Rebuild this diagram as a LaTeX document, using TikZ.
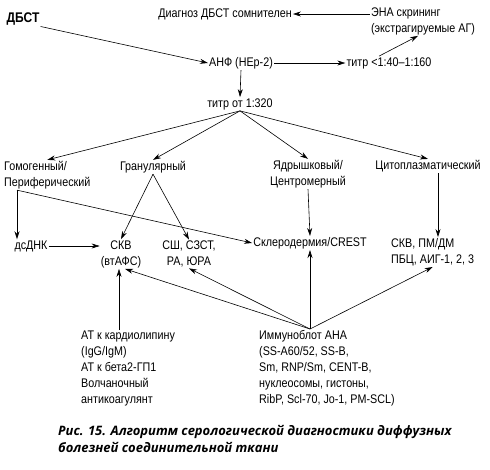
\documentclass[tikz,border=0pt]{standalone}
\usepackage{fontspec}
\setmainfont{Liberation Sans}[FakeStretch=0.86]
\newfontfamily\capfont{Open Sans}
\usetikzlibrary{arrows.meta}

\tikzset{
  lbl/.style={font=\fontsize{12.5}{16}\selectfont, inner sep=1pt},
  arr/.style={-{Stealth[length=8pt,width=5pt]}, semithick},
  ln/.style={semithick}
}

\begin{document}
\begin{tikzpicture}[x=1pt, y=-1pt]
    % --- рамка (размер рисунка в пикселях) ---
    \useasboundingbox (0,0) rectangle (490,469);

    % --- верхняя часть ---
    \node[lbl, font=\fontsize{14}{16}\selectfont\bfseries] (dbst) at (23,19) {ДБСТ};
    \node[lbl] (diag) at (225,14) {Диагноз ДБСТ сомнителен};
    \node[lbl, align=left] (ena) at (423,21) {ЭНА скрининг\\(экстрагируемые АГ)};
    \node[lbl] (anf) at (241,63) {АНФ (НЕр-2)};
    \node[lbl] (titrlow) at (389,63) {титр <1:40–1:160};
    \node[lbl] (titr) at (240,104) {титр от 1:320};

    % --- типы свечения ---
    \node[lbl, align=left, anchor=west] (homo) at (3,175) {Гомогенный/\\Периферический};
    \node[lbl] (gran) at (153,167) {Гранулярный};
    \node[lbl, align=center] (nucl) at (308,174) {Ядрышковый/\\Центромерный};
    \node[lbl] (cyto) at (428,166) {Цитоплазматический};

    % --- диагнозы ---
    \node[lbl] (dsdna) at (31,246) {дсДНК};
    \node[lbl, align=center] (sle) at (121,254) {СКВ\\(втАФС)};
    \node[lbl, align=center] (ssc) at (189,254) {СШ, СЗСТ,\\РА, ЮРА};
    \node[lbl] (crest) at (310,243) {Склеродермия/CREST};
    \node[lbl, align=left, anchor=west] (myo) at (390,252) {СКВ, ПМ/ДМ\\ПБЦ, АИГ-1, 2, 3};

    % --- уточняющие тесты ---
    \node[lbl, align=left, anchor=north west] (apl) at (80,330)
        {АТ к кардиолипину\\(IgG/IgM)\\АТ к бета2-ГП1\\Волчаночный\\антикоагулянт};
    \node[lbl, align=left, anchor=north west] (blot) at (258,329)
        {Иммуноблот АНА\\(SS-A60/52, SS-B,\\Sm, RNP/Sm, CENT-B,\\нуклеосомы, гистоны,\\RibP, Scl-70, Jo-1, PM-SCL)};

    % --- подпись ---
    \node[anchor=north west, align=left, inner sep=0pt,
          font=\capfont\fontsize{13}{17}\selectfont\bfseries\itshape] (cap) at (58,425)
        {Рис. 15. Алгоритм серологической диагностики диффузных\\болезней соединительной ткани};

    % --- вспомогательные точки ---
    \coordinate (hs) at ([xshift=14pt]homo.south west);
    \coordinate (bt) at (crest.south |- blot.north);

    % --- стрелки ---
    \draw[arr] (dbst.south east) -- (anf.west);
    \draw[arr] (ena.west |- diag.east) -- (diag.east);
    \draw[arr] (anf.east) -- (titrlow.west);
    \draw[arr] ([xshift=-10pt]titrlow.north) -- ([xshift=-5pt]ena.south);
    \draw[arr] (anf.south) -- (titr.north);

    \draw[arr] (titr.south) -- (homo.north);
    \draw[arr] (titr.south) -- (gran.north);
    \draw[arr] (titr.south) -- (nucl.north);
    \draw[arr] (titr.south) -- (cyto.north);

    \draw[arr] (hs) -- (hs |- dsdna.north);
    \draw[arr] (hs) -- (crest.west);
    \draw[arr] (dsdna.east) -- (sle.west |- dsdna.east);
    \draw[arr] (gran.south) -- (sle.north);
    \draw[arr] (gran.south) -- (ssc.north);
    \draw[arr] (nucl.south) -- (crest.north);
    \draw[arr] ([xshift=10pt]cyto.south) -- ([xshift=10pt]cyto.south |- myo.north);

    \draw[arr] ([xshift=-2pt]sle.south |- apl.north) -- ([xshift=-2pt]sle.south);
    \draw[arr] (bt) -- ([xshift=4pt]sle.south);
    \draw[arr] (bt) -- (ssc.south);
    \draw[arr] (bt) -- (crest.south);
    \draw[arr] (bt) -- (myo.south);
\end{tikzpicture}
\end{document}
